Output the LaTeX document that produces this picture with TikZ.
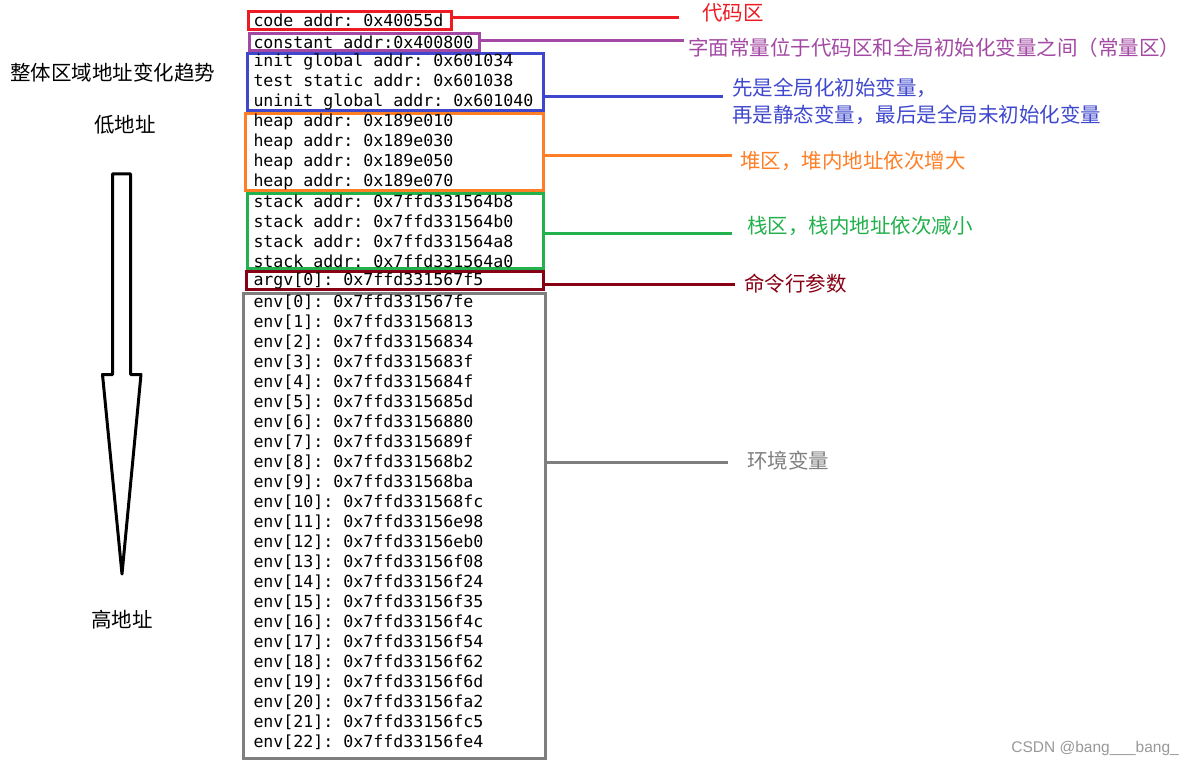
\documentclass[tikz,border=0pt]{standalone}
\usepackage{fontspec}
\usepackage{xcolor}
\usetikzlibrary{positioning}
\newfontfamily\memmono{DejaVu Sans Mono}
\newfontfamily\cjk{Noto Sans CJK SC}
\newfontfamily\wmfont{Liberation Sans}
\newcommand\memfont{\memmono\fontsize{16.6}{20}\selectfont\frenchspacing}
% fixed-pitch spaces, one character wide (align=left makes them narrow)
\newcommand\memspace{\spaceskip=9.99pt\relax\xspaceskip=9.99pt\relax}
\definecolor{memRed}{RGB}{237,28,36}
\definecolor{memPurple}{RGB}{163,73,164}
\definecolor{memBlue}{RGB}{63,72,204}
\definecolor{memOrange}{RGB}{255,127,39}
\definecolor{memGreen}{RGB}{34,177,76}
\definecolor{memDark}{RGB}{136,0,21}
\definecolor{memGray}{RGB}{127,127,127}
\tikzset{
  mem/box/.style 2 args={draw, line width=3pt, anchor=west, inner xsep=#1,
                         inner ysep=0pt, text width=#2, align=left,
                         font=\memfont, execute at begin node=\memspace},
  mem/note/.style={anchor=west, inner sep=0pt, align=left,
                   font=\cjk\fontsize{20.5}{27}\selectfont},
  mem/link/.style={line width=3pt},
}

\begin{document}
\begin{tikzpicture}[x=1pt, y=-1pt]
  \fill[white] (0,0) rectangle (1194,767);
  \useasboundingbox (0,0) rectangle (1194,767);

  % ---------------- address column ----------------
  \node[mem/box={5.5pt}{192pt}, draw=memRed, minimum height=18pt] (code)
    at (246.5,20.5) {code addr: 0x40055d};
  \node[mem/box={4.5pt}{221pt}, draw=memPurple, minimum height=17pt] (const)
    at (247.5,42) {constant addr:0x400800};
  \node[mem/box={6.5pt}{283pt}, draw=memBlue, minimum height=55pt] (glob)
    at (245.5,82)
    {init global addr: 0x601034\\
     test static addr: 0x601038\\
     uninit global addr: 0x601040};
  \node[mem/box={8.5pt}{281pt}, draw=memOrange, minimum height=77pt] (heap)
    at (243.5,152)
    {heap addr: 0x189e010\\
     heap addr: 0x189e030\\
     heap addr: 0x189e050\\
     heap addr: 0x189e070};
  \node[mem/box={6.5pt}{283pt}, draw=memGreen, minimum height=75pt] (stack)
    at (245.5,231)
    {stack addr: 0x7ffd331564b8\\
     stack addr: 0x7ffd331564b0\\
     stack addr: 0x7ffd331564a8\\
     stack addr: 0x7ffd331564a0};
  \node[mem/box={7.5pt}{282pt}, draw=memDark, minimum height=18pt] (argv)
    at (244.5,280.5) {argv[0]: 0x7ffd331567f5};
  % the env list sits a little above the middle of its box
  \node[mem/box={10.5pt}{281pt}, draw=memGray, minimum height=465pt] (env)
    at (241.5,526)
    {env[0]: 0x7ffd331567fe\\
     env[1]: 0x7ffd33156813\\
     env[2]: 0x7ffd33156834\\
     env[3]: 0x7ffd3315683f\\
     env[4]: 0x7ffd3315684f\\
     env[5]: 0x7ffd3315685d\\
     env[6]: 0x7ffd33156880\\
     env[7]: 0x7ffd3315689f\\
     env[8]: 0x7ffd331568b2\\
     env[9]: 0x7ffd331568ba\\
     env[10]: 0x7ffd331568fc\\
     env[11]: 0x7ffd33156e98\\
     env[12]: 0x7ffd33156eb0\\
     env[13]: 0x7ffd33156f08\\
     env[14]: 0x7ffd33156f24\\
     env[15]: 0x7ffd33156f35\\
     env[16]: 0x7ffd33156f4c\\
     env[17]: 0x7ffd33156f54\\
     env[18]: 0x7ffd33156f62\\
     env[19]: 0x7ffd33156f6d\\
     env[20]: 0x7ffd33156fa2\\
     env[21]: 0x7ffd33156fc5\\
     env[22]: 0x7ffd33156fe4\\[-10pt]\mbox{}};

  % ---------------- notes column ----------------
  \node[mem/note, text=memRed] (codelbl) at (702,13) {代码区};
  \node[mem/note, text=memPurple] (constlbl) at (688,48)
    {字面常量位于代码区和全局初始化变量之间（常量区）};
  \node[mem/note, text=memBlue] (globlbl) at (732,101.5)
    {先是全局化初始变量，\\再是静态变量，最后是全局未初始化变量};
  \node[mem/note, text=memOrange] (heaplbl) at (740,161)
    {堆区，堆内地址依次增大};
  \node[mem/note, text=memGreen] (stacklbl) at (747,226)
    {栈区，栈内地址依次减小};
  \node[mem/note, text=memDark] (argvlbl) at (744,284) {命令行参数};
  \node[mem/note, text=memGray] (envlbl) at (747,461) {环境变量};

  % ---------------- box -> note edges ----------------
  \coordinate (codeEnd)  at (679,17.5);
  \coordinate (constEnd) at (684,40.5);
  \coordinate (globEnd)  at (723,97);
  \coordinate (heapEnd)  at (732,156);
  \coordinate (stackEnd) at (732,234);
  \coordinate (argvEnd)  at (735,284.5);
  \coordinate (envEnd)   at (728,462);
  \draw[mem/link, memRed]    (code.east |- codeEnd)   -- (codeEnd);
  \draw[mem/link, memPurple] (const.east |- constEnd) -- (constEnd);
  \draw[mem/link, memBlue]   (glob.east |- globEnd)   -- (globEnd);
  \draw[mem/link, memOrange] (heap.east |- heapEnd)   -- (heapEnd);
  \draw[mem/link, memGreen]  (stack.east |- stackEnd) -- (stackEnd);
  \draw[mem/link, memDark]   (argv.east |- argvEnd)   -- (argvEnd);
  \draw[mem/link, memGray]   (env.east |- envEnd)     -- (envEnd);

  % ---------------- address trend ----------------
  \node[mem/note] (trend) at (10,73) {整体区域地址变化趋势};
  \node[mem/note, anchor=center] (low) at (125,125) {低地址};
  \node[mem/note, anchor=center] (high) at (122,620) {高地址};
  \draw[line width=3pt, line join=round]
    (112.5,174) -- (130.5,174) -- (130.5,374.5) -- (141,374.5)
    -- (122,574) -- (102.5,374.5) -- (112.5,374.5) -- cycle;

  \node[anchor=east, inner sep=0pt, text=black!40,
        font=\wmfont\fontsize{15.5}{18}\selectfont] (mark)
    at (1179,748) {CSDN @bang\_\_\_bang\_};

\end{tikzpicture}
\end{document}
